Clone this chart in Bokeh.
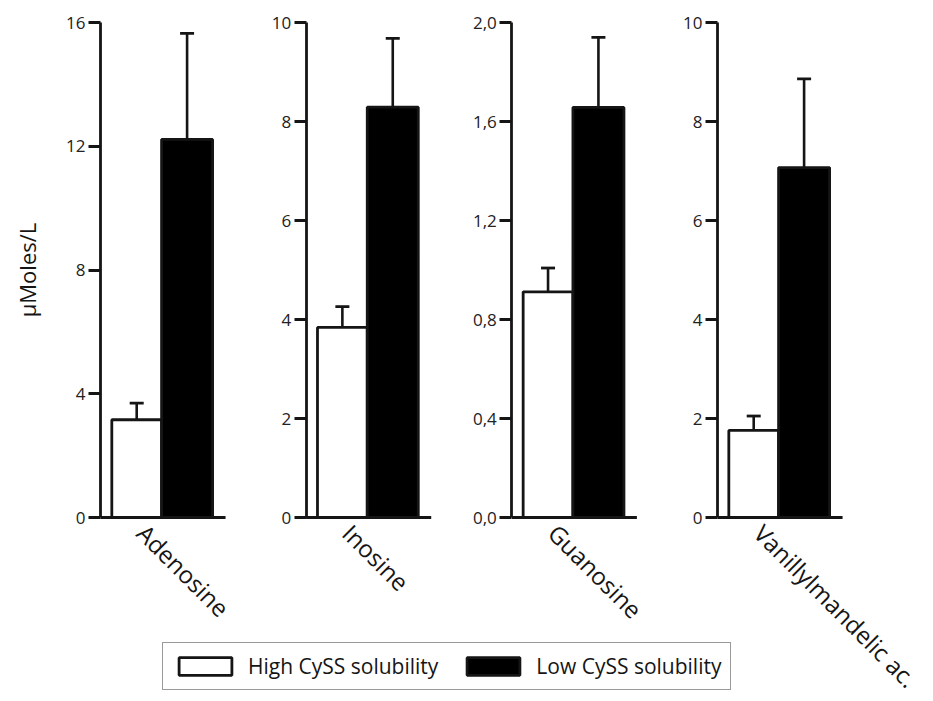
import math
from bokeh.plotting import figure
from bokeh.models import (Range1d, LinearAxis, FixedTicker, ColumnDataSource,
                          Whisker, TeeHead, Legend, LegendItem)
from bokeh.embed import file_html
from bokeh.resources import INLINE

# ---------------- data ----------------
categories = ["Adenosine", "Inosine", "Guanosine", "Vanillylmandelic ac."]
series_names = ["High CySS solubility", "Low CySS solubility"]
high_mean = [3.16, 3.84, 0.912, 1.76]
high_err = [0.54, 0.42, 0.096, 0.29]
low_mean = [12.22, 8.29, 1.657, 7.07]
low_err = [3.43, 1.39, 0.283, 1.79]
y_max = [16, 10, 2.0, 10]
y_ticks = [[0, 4, 8, 12, 16],
           [0, 2, 4, 6, 8, 10],
           [0, 0.4, 0.8, 1.2, 1.6, 2.0],
           [0, 2, 4, 6, 8, 10]]
y_tick_labels = [["0", "4", "8", "12", "16"],
                 ["0", "2", "4", "6", "8", "10"],
                 ["0,0", "0,4", "0,8", "1,2", "1,6", "2,0"],
                 ["0", "2", "4", "6", "8", "10"]]
y_label = "\u00b5Moles/L"

# ---------------- layout ----------------
W, H = 933, 701
PX_UNIT = 205.67          # pixels per panel step
AXIS0 = 100               # px of first y axis
BASE_FROM_BOTTOM = H - 517
TOP_FROM_BOTTOM = H - 22
SPAN = TOP_FROM_BOTTOM - BASE_FROM_BOTTOM
FONT = "Open Sans"
INK = "#151515"

p = figure(width=W, height=H, min_border=0, toolbar_location=None,
           output_backend="svg", x_axis_type=None, y_axis_type=None,
           x_range=Range1d(-AXIS0 / PX_UNIT, (W - AXIS0) / PX_UNIT),
           y_range=Range1d(-BASE_FROM_BOTTOM, H - BASE_FROM_BOTTOM))
p.outline_line_color = None
p.xgrid.visible = False
p.ygrid.visible = False
p.background_fill_color = "white"
p.border_fill_color = "white"

W_OFF, W_WID = 0.176, 0.242
B_OFF, B_WID = 0.421, 0.248
BASE_END = 0.608

white_r = None
black_r = None
for i, cat in enumerate(categories):
    name = f"p{i}"
    m = y_max[i]
    p.extra_y_ranges[name] = Range1d(-BASE_FROM_BOTTOM * m / SPAN,
                                     (H - BASE_FROM_BOTTOM) * m / SPAN)
    ax = LinearAxis(y_range_name=name, fixed_location=i,
                    ticker=FixedTicker(ticks=y_ticks[i]),
                    major_label_overrides={t: l for t, l in zip(y_ticks[i], y_tick_labels[i])},
                    bounds=(0, m))
    ax.axis_line_width = 2.8
    ax.axis_line_color = INK
    ax.major_tick_line_width = 2.8
    ax.major_tick_line_color = INK
    ax.major_tick_out = 12
    ax.major_tick_in = 0
    ax.minor_tick_line_color = None
    ax.major_label_text_font = FONT
    ax.major_label_text_font_size = "17px"
    ax.major_label_text_color = "#222222"
    ax.major_label_standoff = 3
    if i == 0:
        ax.axis_label = y_label
        ax.axis_label_text_font = FONT
        ax.axis_label_text_font_size = "22px"
        ax.axis_label_text_font_style = "normal"
        ax.axis_label_text_color = INK
        ax.axis_label_standoff = 21
    p.add_layout(ax, "left")

    # baseline of the panel
    p.segment(x0=[i], y0=[0], x1=[i + BASE_END], y1=[0],
              line_width=2.8, line_color=INK)

    src = ColumnDataSource(dict(
        x=[i + W_OFF, i + B_OFF],
        top=[high_mean[i], low_mean[i]],
        upper=[high_mean[i] + high_err[i], low_mean[i] + low_err[i]],
    ))
    wr = p.vbar(x=[i + W_OFF], top=[high_mean[i]], bottom=0, width=W_WID,
                y_range_name=name, fill_color="white", line_color=INK, line_width=2.8)
    br = p.vbar(x=[i + B_OFF], top=[low_mean[i]], bottom=0, width=B_WID,
                y_range_name=name, fill_color="black", line_color=INK, line_width=2.8)
    if white_r is None:
        white_r, black_r = wr, br
    wh = Whisker(source=src, base="x", lower="top", upper="upper",
                 y_range_name=name, line_width=2.6, line_color=INK,
                 lower_head=None,
                 upper_head=TeeHead(size=14, line_width=2.8, line_color=INK))
    p.add_layout(wh)

# category labels
LBL_OFF = 0.20
xa = LinearAxis(fixed_location=0,
                ticker=FixedTicker(ticks=[i + LBL_OFF for i in range(len(categories))]),
                major_label_overrides={i + LBL_OFF: c for i, c in enumerate(categories)})
xa.axis_line_color = None
xa.major_tick_line_color = None
xa.minor_tick_line_color = None
xa.major_label_orientation = -math.pi / 4
xa.major_label_text_font = FONT
xa.major_label_text_font_size = "24px"
xa.major_label_text_color = INK
xa.major_label_standoff = 5
p.add_layout(xa, "below")

legend = Legend(items=[LegendItem(label=series_names[0], renderers=[white_r]),
                       LegendItem(label=series_names[1], renderers=[black_r])],
                location=(162, 11), orientation="horizontal")
legend.label_text_font = FONT
legend.label_text_font_size = "21px"
legend.label_text_color = INK
legend.glyph_width = 66
legend.glyph_height = 22
legend.label_height = 22
legend.padding = 9
legend.spacing = 22
legend.label_standoff = 10
legend.border_line_color = "#333333"
legend.border_line_width = 1.5
legend.background_fill_alpha = 1
legend.margin = 0
p.add_layout(legend, "center")

open("out.html", "w").write(file_html(p, INLINE))
